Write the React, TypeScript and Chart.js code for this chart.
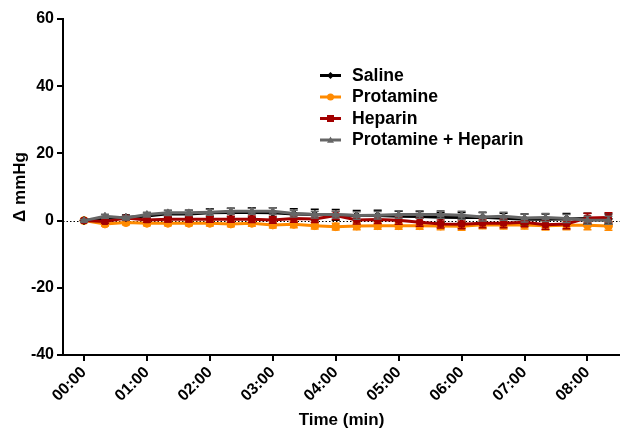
import React, { useEffect, useRef } from "react";
import { Chart, registerables } from "chart.js";

Chart.register(...registerables);

// time points in seconds
const timesSec = [0, 20, 40, 60, 80, 100, 120, 140, 160, 180, 200, 220, 240, 260, 280, 300, 320, 340, 360, 380, 400, 420, 440, 460, 480, 500];

const saline = [0, 0.6, 0.9, 1.4, 2.0, 2.0, 2.3, 2.4, 2.4, 2.3, 2.0, 1.8, 1.7, 1.5, 1.5, 1.3, 1.2, 1.0, 0.9, 1.0, 0.7, 0.4, 0.4, 0.5, 0.6, 0.5];
const salineErr = [0.3, 0.6, 0.8, 0.9, 1.0, 1.1, 1.2, 1.3, 1.4, 1.5, 1.5, 1.6, 1.6, 1.5, 1.6, 1.5, 1.5, 1.5, 1.5, 1.5, 1.5, 1.6, 1.6, 1.6, 1.6, 1.5];

const protamine = [0, -1.0, -0.6, -0.8, -0.8, -0.8, -0.8, -1.0, -0.8, -1.3, -1.1, -1.5, -1.8, -1.6, -1.5, -1.5, -1.5, -1.6, -1.7, -1.2, -1.3, -1.3, -1.5, -1.4, -1.4, -1.6];
const protamineErr = [0.3, 0.6, 0.6, 0.7, 0.7, 0.7, 0.8, 0.8, 0.9, 0.9, 1.0, 1.0, 1.0, 1.1, 1.1, 1.1, 1.1, 1.1, 1.2, 1.2, 1.2, 1.2, 1.3, 1.3, 1.3, 1.3];

const heparin = [0, -0.3, 0.8, 0.2, 0.4, 0.4, 0.4, 0.4, 0.4, 0.2, 0.6, 0.5, 1.5, 0.2, 0.3, 0.1, -0.5, -1.0, -1.1, -0.8, -0.8, -0.5, -1.2, -1.0, 0.8, 0.9];
const heparinErr = [0.3, 0.5, 0.6, 0.7, 0.8, 0.8, 0.9, 0.9, 1.0, 1.0, 1.1, 1.1, 1.2, 1.2, 1.2, 1.2, 1.2, 1.2, 1.3, 1.3, 1.3, 1.3, 1.4, 1.4, 1.4, 1.4];

const protHep = [0, 1.3, 0.8, 1.8, 2.3, 2.3, 2.5, 2.8, 2.8, 2.8, 2.1, 1.8, 1.8, 1.5, 1.6, 1.8, 1.8, 1.8, 1.6, 1.1, 1.3, 0.8, 0.9, 0.6, 0.1, 0.1];
const protHepErr = [0.3, 0.6, 0.6, 0.7, 0.8, 0.8, 0.9, 0.9, 0.9, 1.0, 1.0, 1.0, 1.0, 1.1, 1.1, 1.1, 1.1, 1.1, 1.2, 1.2, 1.2, 1.2, 1.2, 1.2, 1.2, 1.2];

const seriesNames = ["Saline", "Protamine", "Heparin", "Protamine + Heparin"];
const seriesColors = ["#000000", "#FF8A00", "#A30000", "#666666"];
const seriesMarkers = ["rectRot", "circle", "rect", "triangle"];

const xTicksSec = [0, 60, 120, 180, 240, 300, 360, 420, 480];
const yTicks = [-40, -20, 0, 20, 40, 60];

const FONT = "'Liberation Sans', Arial, sans-serif";

function pad2(n: number) {
  return n < 10 ? "0" + n : String(n);
}
function fmtTime(sec: number) {
  const m = Math.floor(sec / 60);
  const s = sec % 60;
  return pad2(m) + ":" + pad2(s);
}

const errorArrays = [salineErr, protamineErr, heparinErr, protHepErr];

const errorBarPlugin = {
  id: "errorBars",
  afterDatasetDraw(chart: any, args: any) {
    const ds = chart.data.datasets[args.index];
    const errs = ds.errors as number[] | undefined;
    if (!errs) return;
    const meta = args.meta;
    const yScale = chart.scales.y;
    const ctx = chart.ctx;
    ctx.save();
    ctx.strokeStyle = ds.borderColor;
    ctx.lineWidth = 1.5;
    meta.data.forEach((pt: any, i: number) => {
      const v = (ds.data[i] as any).y;
      const e = errs[i];
      const x = pt.x;
      const yT = yScale.getPixelForValue(v + e);
      const yB = yScale.getPixelForValue(v - e);
      ctx.beginPath();
      ctx.moveTo(x, yT);
      ctx.lineTo(x, yB);
      ctx.moveTo(x - 4, yT);
      ctx.lineTo(x + 4, yT);
      ctx.moveTo(x - 4, yB);
      ctx.lineTo(x + 4, yB);
      ctx.stroke();
    });
    ctx.restore();
  },
};

const zeroLinePlugin = {
  id: "zeroLine",
  beforeDatasetsDraw(chart: any) {
    const { ctx, chartArea, scales } = chart;
    const y = Math.round(scales.y.getPixelForValue(0)) + 0.5;
    ctx.save();
    ctx.strokeStyle = "#000";
    ctx.lineWidth = 1;
    ctx.setLineDash([1.5, 2]);
    ctx.beginPath();
    ctx.moveTo(chartArea.left, y);
    ctx.lineTo(chartArea.right, y);
    ctx.stroke();
    ctx.restore();
  },
};

const legendPlugin = {
  id: "customLegend",
  afterDraw(chart: any) {
    const ctx = chart.ctx;
    const x0 = 320;
    const lineLen = 21;
    const rows = [75.5, 97, 118.5, 140];
    ctx.save();
    seriesNames.forEach((name, i) => {
      const y = rows[i];
      const c = seriesColors[i];
      ctx.strokeStyle = c;
      ctx.lineWidth = 3;
      ctx.beginPath();
      ctx.moveTo(x0, y);
      ctx.lineTo(x0 + lineLen, y);
      ctx.stroke();
      ctx.fillStyle = c;
      const cx = x0 + lineLen / 2;
      const r = 3.5;
      ctx.beginPath();
      if (seriesMarkers[i] === "rectRot") {
        ctx.moveTo(cx, y - r);
        ctx.lineTo(cx + r, y);
        ctx.lineTo(cx, y + r);
        ctx.lineTo(cx - r, y);
        ctx.closePath();
      } else if (seriesMarkers[i] === "circle") {
        ctx.arc(cx, y, r, 0, Math.PI * 2);
      } else if (seriesMarkers[i] === "rect") {
        ctx.rect(cx - r, y - r, 2 * r, 2 * r);
      } else {
        ctx.moveTo(cx, y - r);
        ctx.lineTo(cx + r, y + r * 0.8);
        ctx.lineTo(cx - r, y + r * 0.8);
        ctx.closePath();
      }
      ctx.fill();
      ctx.fillStyle = "#000";
      ctx.font = "bold 17.6px " + FONT;
      ctx.textBaseline = "middle";
      ctx.textAlign = "left";
      ctx.fillText(name, 352, y + 0.5);
    });
    ctx.restore();
  },
};

export default function App() {
  const ref = useRef<HTMLCanvasElement | null>(null);

  useEffect(() => {
    if (!ref.current) return;
    const values = [saline, protamine, heparin, protHep];
    const orders = [2, 3, 1, 0];
    const datasets = values.map((vals, i) => ({
      label: seriesNames[i],
      data: vals.map((v, j) => ({ x: timesSec[j], y: v })),
      errors: errorArrays[i],
      borderColor: seriesColors[i],
      backgroundColor: seriesColors[i],
      pointBackgroundColor: seriesColors[i],
      pointBorderColor: seriesColors[i],
      pointStyle: seriesMarkers[i] as any,
      pointRadius: 4,
      pointBorderWidth: 1,
      borderWidth: 3,
      tension: 0,
      order: orders[i],
    }));

    const chart = new Chart(ref.current, {
      type: "line",
      data: { datasets: datasets as any },
      plugins: [zeroLinePlugin, errorBarPlugin, legendPlugin],
      options: {
        responsive: false,
        animation: false,
        layout: { autoPadding: false, padding: { top: 19, right: 0, left: 0, bottom: 0 } },
        plugins: {
          legend: { display: false },
          tooltip: { enabled: false },
        },
        scales: {
          x: {
            type: "linear",
            min: -20,
            max: 511,
            afterFit: (s: any) => {
              s.height = 77;
              s.paddingLeft = 0;
              s.paddingRight = 0;
            },
            afterBuildTicks: (s: any) => {
              s.ticks = xTicksSec.map((v) => ({ value: v }));
            },
            ticks: {
              color: "#000",
              font: { family: FONT, size: 16, weight: "bold" },
              minRotation: 45,
              maxRotation: 45,
              padding: 2,
              callback: (v: any) => fmtTime(Number(v)),
            },
            grid: {
              display: true,
              drawOnChartArea: false,
              drawTicks: true,
              tickLength: 6,
              color: "#000",
              lineWidth: 2,
            },
            border: { display: true, color: "#000", width: 2 },
            title: {
              display: true,
              text: "Time (min)",
              color: "#000",
              font: { family: FONT, size: 17, weight: "bold" },
              padding: { top: 0, bottom: 1 },
            },
          },
          y: {
            type: "linear",
            min: -40,
            max: 60,
            afterFit: (s: any) => {
              s.width = 63;
              s.paddingTop = 0;
              s.paddingBottom = 0;
            },
            afterBuildTicks: (s: any) => {
              s.ticks = yTicks.map((v) => ({ value: v }));
            },
            ticks: {
              color: "#000",
              font: { family: FONT, size: 16, weight: "bold" },
              padding: 3,
            },
            grid: {
              display: true,
              drawOnChartArea: false,
              drawTicks: true,
              tickLength: 6,
              color: "#000",
              lineWidth: 2,
            },
            border: { display: true, color: "#000", width: 2 },
            title: {
              display: true,
              text: "Δ mmHg",
              color: "#000",
              font: { family: FONT, size: 17, weight: "bold" },
              padding: { top: 10, bottom: 0 },
            },
          },
        },
      },
    });
    return () => chart.destroy();
  }, []);

  return (
    <div style={{ position: "absolute", left: 0, top: 0, width: 620, height: 432, background: "#fff" }}>
      <canvas ref={ref} width={620} height={432} />
    </div>
  );
}
